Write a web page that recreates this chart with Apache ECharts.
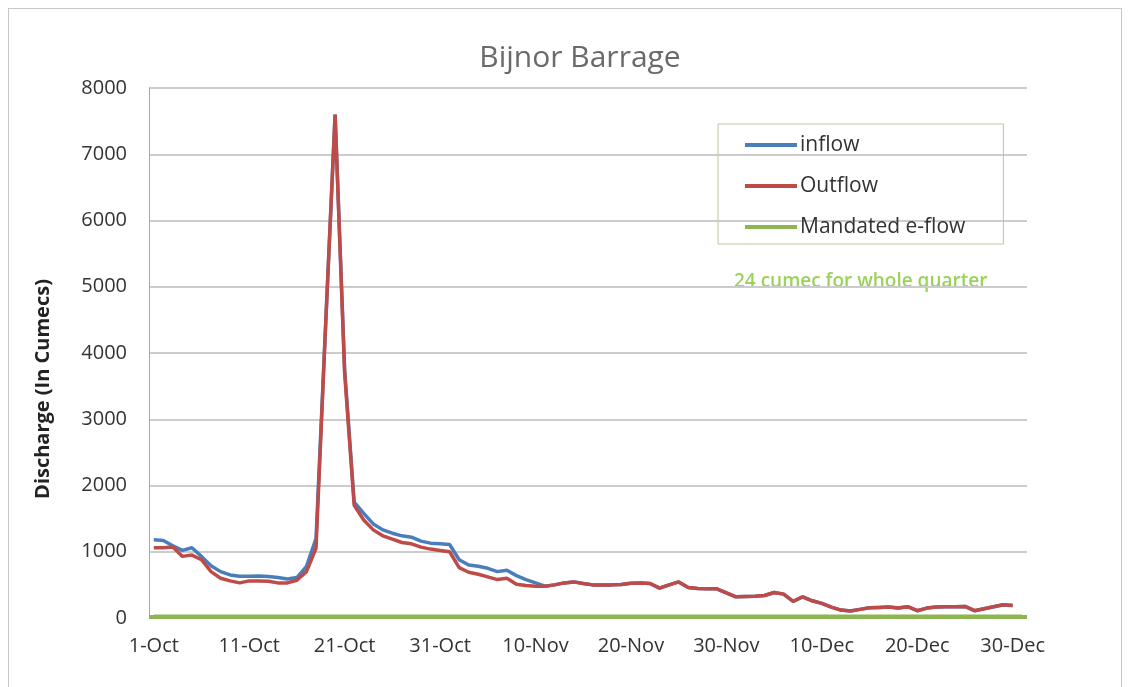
<!DOCTYPE html>
<html>
<head>
<meta charset="utf-8">
<script src="https://cdn.jsdelivr.net/npm/echarts@6/dist/echarts.min.js"></script>
<style>
html,body{margin:0;padding:0;background:#fff;}
#wrap{position:relative;width:1133px;height:687px;overflow:hidden;}
#frame{position:absolute;left:8px;top:8px;width:1114px;height:700px;border:1px solid #c8c8c8;box-sizing:border-box;}
#chart{position:absolute;left:0;top:0;width:1133px;height:687px;}
</style>
</head>
<body>
<div id="wrap"><div id="frame"></div><div id="chart"></div></div>
<script>
const titleText = 'Bijnor Barrage';
const yAxisName = 'Discharge (In Cumecs)';
const noteText = '24 cumec for whole quarter';
const seriesNames = ['inflow', 'Outflow', 'Mandated e-flow'];
const yTicks = { min: 0, max: 8000, interval: 1000 };
const EFLOW = 24;

const categories = [
 '1-Oct','2-Oct','3-Oct','4-Oct','5-Oct','6-Oct','7-Oct','8-Oct','9-Oct','10-Oct',
 '11-Oct','12-Oct','13-Oct','14-Oct','15-Oct','16-Oct','17-Oct','18-Oct','19-Oct','20-Oct',
 '21-Oct','22-Oct','23-Oct','24-Oct','25-Oct','26-Oct','27-Oct','28-Oct','29-Oct','30-Oct',
 '31-Oct','1-Nov','2-Nov','3-Nov','4-Nov','5-Nov','6-Nov','7-Nov','8-Nov','9-Nov',
 '10-Nov','11-Nov','12-Nov','13-Nov','14-Nov','15-Nov','16-Nov','17-Nov','18-Nov','19-Nov',
 '20-Nov','21-Nov','22-Nov','23-Nov','24-Nov','25-Nov','26-Nov','27-Nov','28-Nov','29-Nov',
 '30-Nov','1-Dec','2-Dec','3-Dec','4-Dec','5-Dec','6-Dec','7-Dec','8-Dec','9-Dec',
 '10-Dec','11-Dec','12-Dec','13-Dec','14-Dec','15-Dec','16-Dec','17-Dec','18-Dec','19-Dec',
 '20-Dec','21-Dec','22-Dec','23-Dec','24-Dec','25-Dec','26-Dec','27-Dec','28-Dec','29-Dec',
 '30-Dec','31-Dec'
];

const inflow = [
 1180,1170,1090,1020,1060,930,790,700,650,630,
 630,635,625,610,590,610,780,1200,4400,7600,
 3750,1750,1580,1420,1330,1280,1240,1220,1160,1130,
 1120,1110,880,800,780,750,700,720,640,580,
 530,480,500,530,545,520,500,500,500,505,
 525,530,520,450,500,545,460,445,440,440,
 380,320,325,330,340,385,360,250,320,260,
 220,165,120,105,130,155,160,165,150,170,
 110,150,165,170,170,175,110,140,170,200,
 190
];

const outflow = [
 1060,1060,1070,930,950,880,700,600,560,530,
 560,560,555,530,530,570,700,1050,4400,7600,
 3700,1700,1480,1330,1240,1190,1140,1120,1070,1040,
 1020,1000,760,690,660,620,580,600,510,490,
 480,480,500,530,545,520,500,500,500,505,
 525,530,520,450,500,545,460,445,440,440,
 380,320,325,330,340,385,360,250,320,260,
 220,165,120,105,130,155,160,165,150,170,
 110,150,165,170,170,175,110,140,170,200,
 190
];

const eflow = [
 24,24,24,24,24,24,24,24,24,24,24,24,24,24,24,24,24,24,24,24,
 24,24,24,24,24,24,24,24,24,24,24,24,24,24,24,24,24,24,24,24,
 24,24,24,24,24,24,24,24,24,24,24,24,24,24,24,24,24,24,24,24,
 24,24,24,24,24,24,24,24,24,24,24,24,24,24,24,24,24,24,24,24,
 24,24,24,24,24,24,24,24,24,24,24,24
];

const FONT = '"Open Sans", "Noto Sans", sans-serif';
const chart = echarts.init(document.getElementById('chart'), null, { renderer: 'canvas' });
chart.setOption({
  animation: false,
  backgroundColor: 'transparent',
  title: {
    text: titleText,
    left: 575, top: 38, textAlign: 'center',
    textStyle: { fontFamily: FONT, fontSize: 30, fontWeight: 'normal', color: '#6a6a6a' }
  },
  grid: { left: 149, right: 106, top: 88, bottom: 69, containLabel: false },
  legend: {
    orient: 'vertical', left: 718, top: 124,
    padding: [10, 38, 6, 27], itemGap: 19,
    itemWidth: 52, itemHeight: 4, icon: 'rect',
    borderColor: '#c2c29a', borderWidth: 1,
    textStyle: { fontFamily: FONT, fontSize: 21, lineHeight: 22, color: '#333', padding: [0,0,0,-2] },
    data: seriesNames
  },
  graphic: [{
    type: 'text', left: 722, top: 270,
    style: {
      text: noteText, fill: '#9ad25a', font: '600 19px ' + FONT,
      backgroundColor: '#fff', padding: [2, 12, 2, 12]
    }
  }],
  xAxis: {
    type: 'category', data: categories, boundaryGap: true,
    axisLine: { show: false },
    axisTick: { show: false },
    axisLabel: { interval: 9, fontFamily: FONT, fontSize: 20, color: '#333', margin: 18 },
    splitLine: { show: false }
  },
  yAxis: {
    type: 'value', min: yTicks.min, max: yTicks.max, interval: yTicks.interval,
    name: yAxisName, nameLocation: 'middle', nameGap: 96, nameRotate: 90,
    nameTextStyle: { fontFamily: FONT, fontSize: 20, fontWeight: 'bold', color: '#222', padding: [0, 72, 0, 0] },
    axisLine: { show: true, lineStyle: { color: '#a6a6a6', width: 1 } },
    axisTick: { show: false },
    axisLabel: { fontFamily: FONT, fontSize: 20, color: '#333', margin: 22, formatter: function (v) { return String(v); } },
    splitLine: { lineStyle: { color: '#cccccc', width: 2 } }
  },
  series: [
    { name: seriesNames[0], type: 'line', data: inflow, symbol: 'none', smooth: false,
      lineStyle: { color: '#4a7ebb', width: 3.5 }, itemStyle: { color: '#4a7ebb' } },
    { name: seriesNames[1], type: 'line', data: outflow, symbol: 'none', smooth: false,
      lineStyle: { color: '#be4b48', width: 3.5 }, itemStyle: { color: '#be4b48' } },
    { name: seriesNames[2], type: 'line', data: eflow, symbol: 'none',
      lineStyle: { color: '#8db552', width: 4 }, itemStyle: { color: '#8db552' },
      markLine: { silent: true, symbol: 'none', label: { show: false },
        lineStyle: { color: '#8db552', width: 4, type: 'solid' },
        data: [{ yAxis: EFLOW }] } }
  ]
});
</script>
</body>
</html>
